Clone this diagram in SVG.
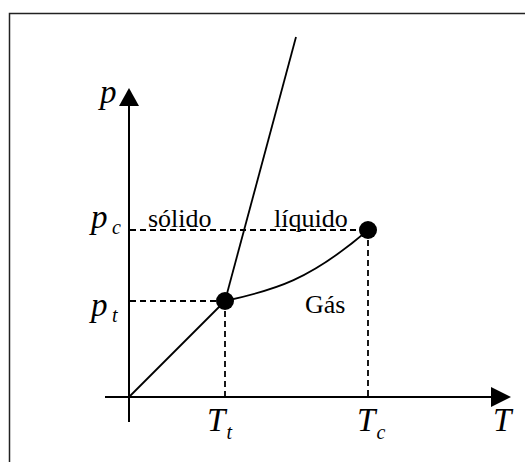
<svg xmlns="http://www.w3.org/2000/svg" width="525" height="462" viewBox="0 0 525 462">
<defs>
<style>
.ax{stroke:#000;stroke-width:2;fill:none}
.ln{stroke:#000;stroke-width:1.8;fill:none}
.ds{stroke:#000;stroke-width:1.8;fill:none;stroke-dasharray:6,4}
text{font-family:'Liberation Serif','Times New Roman',Times,serif;fill:#000}
.it{font-style:italic;font-size:33px}
.sub{font-style:italic;font-size:20px}
.lb{font-size:26px}
.pt{fill:#000}
</style>
</defs>
<rect x="9.5" y="13.5" width="530" height="460" fill="#fff" stroke="#222" stroke-width="1.5"/>
<g id="connectors">
<line class="ax" x1="129" y1="422" x2="129" y2="104"/>
<polygon points="119,106 139,106 129,88" fill="#000"/>
<line class="ax" x1="105" y1="397" x2="493" y2="397"/>
<polygon points="491,387 491,407 511,397" fill="#000"/>
<line class="ds" x1="130" y1="230" x2="368" y2="230"/>
<line class="ds" x1="130" y1="301" x2="225" y2="301"/>
<line class="ds" x1="225" y1="301" x2="225" y2="397"/>
<line class="ds" x1="368" y1="230" x2="368" y2="397"/>
<line class="ln" x1="129" y1="397" x2="225" y2="301"/>
<line class="ln" x1="225" y1="301" x2="296" y2="37"/>
<path class="ln" d="M225,301 C275,290 310,280 368,230"/>
</g>
<g id="triple-point"><circle class="pt" cx="225" cy="301" r="9"/></g>
<g id="critical-point"><circle class="pt" cx="368" cy="230" r="9"/></g>
<g id="labels">
<text class="it" x="100" y="103">p</text>
<text class="it" x="493" y="431">T</text>
<text class="it" x="91" y="228">p</text><text class="sub" x="112" y="234">c</text>
<text class="it" x="91" y="316">p</text><text class="sub" x="112" y="322">t</text>
<text class="it" x="207" y="431">T</text><text class="sub" x="226.5" y="439">t</text>
<text class="it" x="357" y="431">T</text><text class="sub" x="376.5" y="439">c</text>
<text class="lb" x="148" y="227">sólido</text>
<text class="lb" x="274" y="227">líquido</text>
<text class="lb" x="305" y="313">Gás</text>
</g>
</svg>
